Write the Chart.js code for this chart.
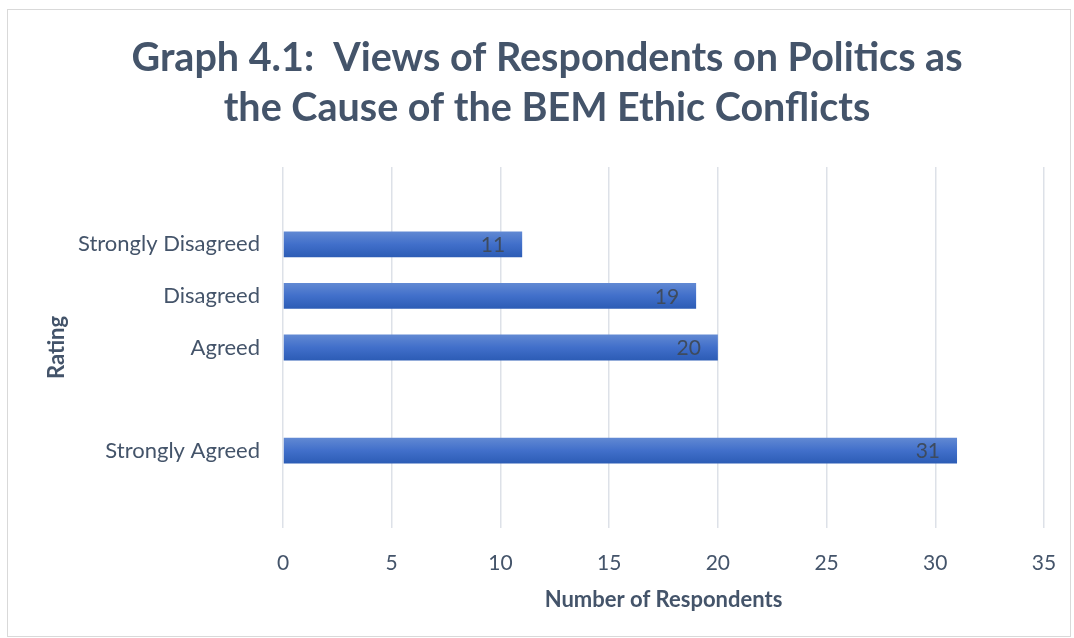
<!DOCTYPE html>
<html>
<head>
<meta charset="utf-8">
<script src="https://cdn.jsdelivr.net/npm/chart.js@4"></script>
<style>
	body { margin:0; background:#fff; }
	#frame { position:absolute; left:7px; top:9px; width:1062px; height:626px; border:1px solid #d9d9d9; }
</style>
</head>
<body>
<div id="frame"><canvas id="ratingChart" width="1062" height="626"></canvas></div>
<script>
// rows of the rating table, blank rows kept as spacers
var ratings = [ '', 'Strongly Disagreed', 'Disagreed', 'Agreed', '', 'Strongly Agreed', '' ]
var respondents = [ null, 11, 19, 20, null, 31, null ]
var xTicks = [ 0, 5, 10, 15, 20, 25, 30, 35 ]

var textColor = '#44546a'
var fontFamily = 'Lato, "Open Sans", sans-serif'

// each bar gets its own top-to-bottom shade
function barFill( context ) {
	var chart = context.chart
	var y = chart.scales.y
	if( !y || context.dataIndex == null ) return '#4472c4'
	var mid = y.getPixelForValue( context.dataIndex )
	var half = ( y.height / ratings.length ) * 0.5 / 2
	if( !isFinite(mid) || !isFinite(half) || half <= 0 ) return '#4472c4'
	var g = chart.ctx.createLinearGradient( 0, mid - half, 0, mid + half )
	g.addColorStop( 0, '#6189d3' )
	g.addColorStop( 0.5, '#416fca' )
	g.addColorStop( 1, '#2c5cb5' )
	return g
}

// value printed just inside the end of each bar
var barValues = {
	id: 'barValues',
	afterDatasetsDraw: function( chart ) {
		var ctx = chart.ctx
		var meta = chart.getDatasetMeta(0)
		ctx.save()
		ctx.font = '21px ' + fontFamily
		ctx.fillStyle = '#3e4b5e'
		ctx.textAlign = 'right'
		ctx.textBaseline = 'middle'
		meta.data.forEach( function( bar, i ) {
			if( respondents[i] == null ) return
			ctx.fillText( String(respondents[i]), bar.x - 17, bar.y + 1 )
		})
		ctx.restore()
	}
}

var data = {
	type: 'bar',
	data: {
		labels: ratings,
		datasets: [
			{
				label: 'Number of Respondents',
				data: respondents,
				backgroundColor: barFill,
				borderWidth: 0,
				barPercentage: 0.5,
				categoryPercentage: 1
			}
		]
	},
	options: {
		indexAxis: 'y',
		responsive: false,
		animation: false,
		layout: { padding: { top:0, right:26, bottom:0, left:42 } },
		plugins: {
			legend: { display:false },
			tooltip: { enabled:false },
			title: {
				display: true,
				text: [ 'Graph 4.1:  Views of Respondents on Politics as', 'the Cause of the BEM Ethic Conflicts' ],
				color: textColor,
				font: { family:fontFamily, size:39.5, weight:'bold', lineHeight:1.266 },
				padding: { top:23, bottom:34 }
			}
		},
		scales: {
			x: {
				min: 0,
				max: 35,
				afterBuildTicks: function( scale ) {
					scale.ticks = xTicks.map( function( v ) { return { value:v } })
				},
				afterFit: function( scale ) {
					scale.height = 108
					scale.paddingLeft = 0
					scale.paddingRight = 0
				},
				grid: { color:'#dde1e8', lineWidth:1.5, drawTicks:false },
				border: { display:false },
				ticks: { color:textColor, padding:23, font:{ family:fontFamily, size:21 } },
				title: {
					display: true,
					text: 'Number of Respondents',
					color: textColor,
					font: { family:fontFamily, size:22, weight:'bold' },
					padding: { top:10, bottom:23 }
				}
			},
			y: {
				afterFit: function( scale ) { scale.width = 233 },
				grid: { display:false, drawTicks:false },
				border: { display:false },
				ticks: { color:textColor, padding:23, font:{ family:fontFamily, size:22 } },
				title: {
					display: true,
					text: 'Rating',
					color: textColor,
					font: { family:fontFamily, size:22, weight:'bold' },
					padding: { top:-6, bottom:0 }
				}
			}
		}
	},
	plugins: [ barValues ]
}

var ctx = document.getElementById('ratingChart')
var myChart = new Chart( ctx, data )
</script>
</body>
</html>
